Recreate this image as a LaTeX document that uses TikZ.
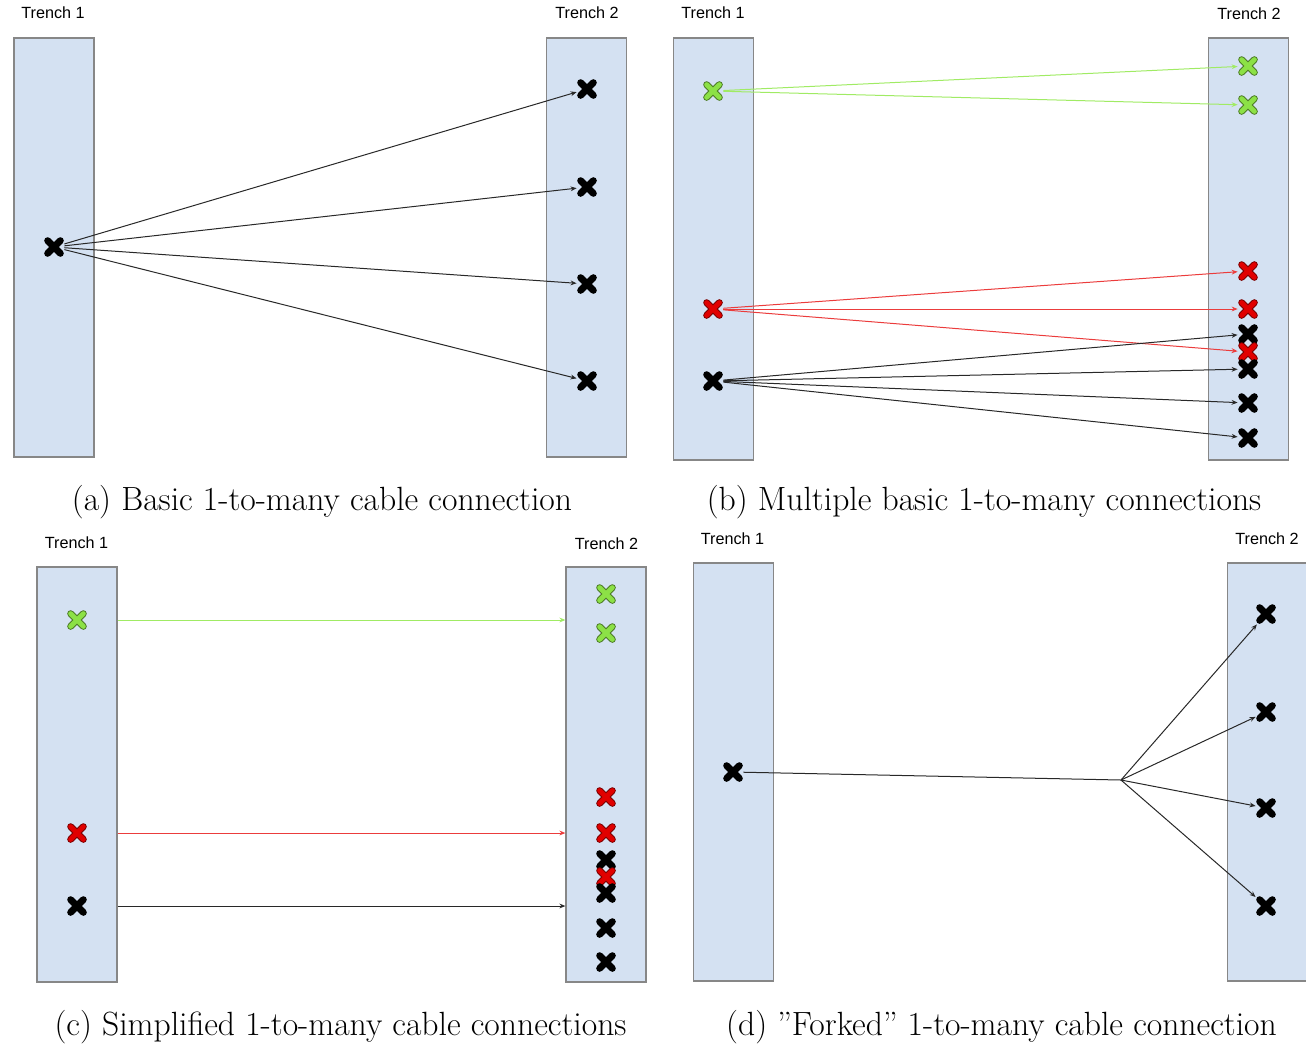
\documentclass[tikz,border=0pt]{standalone}
\usepackage{fontspec}
\newfontfamily\trenchfont{Liberation Sans}
\usetikzlibrary{arrows.meta}
\definecolor{trenchfill}{RGB}{212,225,242}
\definecolor{trenchedge}{RGB}{135,135,135}
\definecolor{cablegreen}{RGB}{160,235,100}
\definecolor{markgreen} {RGB}{140,225,70}
\definecolor{cablered}  {RGB}{235,60,60}
\definecolor{markred}   {RGB}{225,0,0}
\definecolor{cablegray} {RGB}{40,40,40}

\begin{document}
\begin{tikzpicture}[
    x=0.5pt, y=-0.5pt,
    trench/.style={draw=trenchedge, fill=trenchfill, line width=0.6pt, inner sep=0pt, minimum width=40pt, minimum height=#1},
    tname/.style={font=\trenchfont\fontsize{8.1pt}{10pt}\selectfont, inner sep=0pt},
    caption/.style={font=\fontsize{16.8pt}{20pt}\selectfont, inner sep=0pt},
    xmark/.style={rectangle, inner sep=0pt, minimum size=10pt, path picture={
        \begin{scope}[shift={(path picture bounding box.center)}, line cap=round]
          \draw[line width=3.4pt, draw=#1!55!black] (-3.2pt,-3.2pt) -- (3.2pt,3.2pt) (-3.2pt,3.2pt) -- (3.2pt,-3.2pt);
          \draw[line width=2.4pt, draw=#1] (-3.2pt,-3.2pt) -- (3.2pt,3.2pt) (-3.2pt,3.2pt) -- (3.2pt,-3.2pt);
        \end{scope}}},
    wire/.style={draw=#1, line width=0.5pt},
    wire/.default=cablegray,
    cable/.style={wire=#1, -{Stealth[length=3pt, width=2.4pt]}},
    cable/.default=cablegray
]
\useasboundingbox (0,0) rectangle (1306,1046);

% (a)
\node[trench=209.5pt] (a-t1) at (54,247.5) {};
\node[trench=209.5pt] (a-t2) at (586.5,247.5) {};
\node[tname] (a-n1) at (53,13) {Trench 1};
\node[tname] (a-n2) at (587,13) {Trench 2};
\node[xmark=black] (a-s) at (54,247) {};
\foreach \y [count=\i] in {89,187,284,381}
    \node[xmark=black] (a-d\i) at (587,\y) {};
\foreach \i in {1,...,4}
    \draw[cable] (a-s) -- (a-d\i);
\node[caption] (a-cap) at (322,502) {(a) Basic 1-to-many cable connection};

% (b)
\node[trench=211pt] (b-t1) at (713.5,249) {};
\node[trench=211pt] (b-t2) at (1248.5,249) {};
\node[tname] (b-n1) at (713,13) {Trench 1};
\node[tname] (b-n2) at (1249,14) {Trench 2};
\node[xmark=markgreen] (b-g) at (713,91) {};
\node[xmark=markred] (b-r) at (713,309) {};
\node[xmark=black] (b-k) at (713,381) {};
\node[xmark=markgreen] (b-g1) at (1248,66) {};
\node[xmark=markgreen] (b-g2) at (1248,105) {};
\node[xmark=markred] (b-r1) at (1248,271) {};
\node[xmark=markred] (b-r2) at (1248,309) {};
\node[xmark=black] (b-k1) at (1248,334) {};
\node[xmark=markred] (b-r3) at (1248,352) {};
\foreach \y [count=\i from 2] in {369,403,438}
    \node[xmark=black] (b-k\i) at (1248,\y) {};
\foreach \i in {1,2}
    \draw[cable=cablegreen] (b-g) -- (b-g\i);
\foreach \i in {1,2,3}
    \draw[cable=cablered] (b-r) -- (b-r\i);
\foreach \i in {1,...,4}
    \draw[cable] (b-k) -- (b-k\i);
\node[caption] (b-cap) at (984,502) {(b) Multiple basic 1-to-many connections};

% (c)
\node[trench=207.5pt] (c-t1) at (77,774.5) {};
\node[trench=207.5pt] (c-t2) at (606,774.5) {};
\node[tname] (c-n1) at (76.5,543) {Trench 1};
\node[tname] (c-n2) at (606.5,544) {Trench 2};
\node[xmark=markgreen] (c-g) at (77,620) {};
\node[xmark=markred] (c-r) at (77,833) {};
\node[xmark=black] (c-k) at (77,906) {};
\node[xmark=markgreen] (c-g1) at (606,594) {};
\node[xmark=markgreen] (c-g2) at (606,633) {};
\node[xmark=markred] (c-r1) at (606,797) {};
\node[xmark=markred] (c-r2) at (606,833) {};
\node[xmark=black] (c-k1) at (606,860) {};
\node[xmark=markred] (c-r3) at (606,877) {};
\foreach \y [count=\i from 2] in {893,928,962}
    \node[xmark=black] (c-k\i) at (606,\y) {};
\draw[cable=cablegreen] (c-t1.east |- c-g) -- (c-t2.west |- c-g);
\draw[cable=cablered] (c-t1.east |- c-r) -- (c-t2.west |- c-r);
\draw[cable] (c-t1.east |- c-k) -- (c-t2.west |- c-k);
\node[caption] (c-cap) at (340.5,1027) {(c) Simplified 1-to-many cable connections};

% (d)
\node[trench=209pt] (d-t1) at (733.5,772) {};
\node[trench=209pt] (d-t2) at (1267.5,772) {};
\node[tname] (d-n1) at (732.5,539) {Trench 1};
\node[tname] (d-n2) at (1267,539) {Trench 2};
\node[xmark=black] (d-s) at (733,772) {};
\foreach \y [count=\i] in {614,712,808,906}
    \node[xmark=black] (d-d\i) at (1266,\y) {};
\coordinate (d-fork) at (1121,780);
\draw[wire] (d-s) -- (d-fork);
\foreach \i in {1,...,4}
    \draw[cable] (d-fork) -- (d-d\i);
\node[caption] (d-cap) at (1001.5,1027) {(d) ''Forked'' 1-to-many cable connection};
\end{tikzpicture}
\end{document}
